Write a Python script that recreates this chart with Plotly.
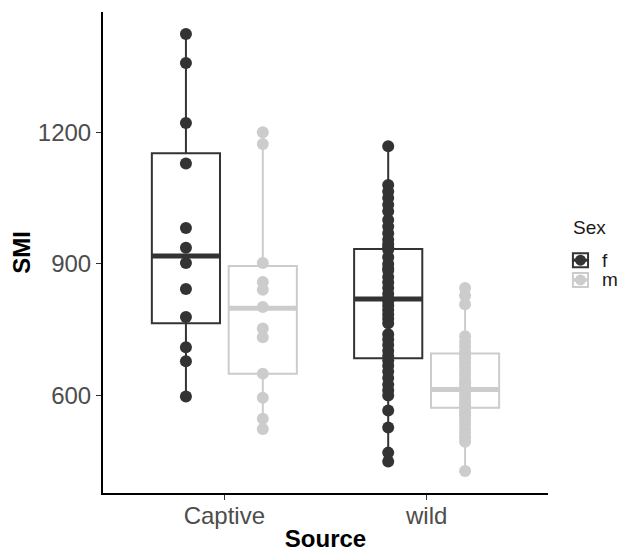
import numpy as np
import plotly.graph_objects as go

# ---- data ----
categories = ["Captive", "wild"]
sexes = ["f", "m"]

captive_f = [1424, 1358, 1221, 1129, 982, 937, 902, 843, 779, 710, 678, 598]
captive_m = [1200, 1173, 902, 859, 841, 802, 753, 733, 650, 595, 547, 524]
wild_f = [1168, 1080, 1065, 1050, 1035, 1020, 1000, 985, 970, 955, 945, 938, 932,
          915, 900, 890, 885, 870, 858, 845, 832, 822, 815, 805, 795, 785, 775,
          765, 740, 728, 715, 702, 690, 680, 668, 655, 640, 625, 612, 600,
          566, 527, 470, 450]
wild_m = [845, 828, 808, 735, 722, 712, 700, 692, 685, 675, 665, 655, 645, 635,
          628, 620, 614, 608, 600, 592, 585, 578, 570, 562, 555, 545, 535, 525,
          515, 505, 495, 428]

# box statistics as drawn (per category: Captive, wild)
q1_f = [765, 685]
med_f = [918, 820]
q3_f = [1152, 934]
q1_m = [650, 572]
med_m = [799, 614]
q3_m = [895, 696]

y_ticks = [600, 900, 1200]

# ---- styling ----
colors = {"f": "#333333", "m": "#cccccc"}
dodge = 0.19
box_w = 0.337
FONT = "Liberation Sans, Arial, sans-serif"

points = {"f": [captive_f, wild_f], "m": [captive_m, wild_m]}
stats = {"f": (q1_f, med_f, q3_f), "m": (q1_m, med_m, q3_m)}

fig = go.Figure()

for s_idx, sex in enumerate(sexes):
    off = -dodge if sex == "f" else dodge
    xs = [i + off for i in range(len(categories))]
    q1, med, q3 = stats[sex]
    lo = [min(p) for p in points[sex]]
    hi = [max(p) for p in points[sex]]
    fig.add_trace(go.Box(
        x=xs, q1=q1, median=med, q3=q3, lowerfence=lo, upperfence=hi,
        width=box_w, whiskerwidth=0,
        line=dict(color=colors[sex], width=2), fillcolor="white",
        name=sex, showlegend=False, hoverinfo="skip",
    ))
    # thick median lines
    for i in range(len(categories)):
        fig.add_trace(go.Scatter(
            x=[xs[i] - box_w / 2, xs[i] + box_w / 2], y=[med[i], med[i]],
            mode="lines", line=dict(color=colors[sex], width=5),
            showlegend=False, hoverinfo="skip",
        ))

for sex in sexes:
    off = -dodge if sex == "f" else dodge
    for i in range(len(categories)):
        vals = points[sex][i]
        fig.add_trace(go.Scatter(
            x=[i + off] * len(vals), y=vals, mode="markers",
            marker=dict(color=colors[sex], size=12, line=dict(width=0)),
            showlegend=False, hoverinfo="skip",
        ))

# ---- custom legend (ggplot-style keys) ----
# plot area is 445 x 481 px; legend positions in paper units
PW, PH = 445.0, 481.0
key_x0, key_x1 = 1.056, 1.090
key_rows = {"f": 0.484, "m": 0.443}
shapes = []
annotations = [dict(text="Sex", xref="paper", yref="paper", x=1.052, y=0.553,
                    xanchor="left", yanchor="middle", showarrow=False,
                    font=dict(size=19, color="#1a1a1a"))]
for sex in sexes:
    yc = key_rows[sex]
    hh = 7.0 / PH
    shapes.append(dict(type="rect", xref="paper", yref="paper",
                       x0=key_x0, x1=key_x1, y0=yc - hh, y1=yc + hh,
                       line=dict(color=colors[sex], width=2), fillcolor="white"))
    shapes.append(dict(type="line", xref="paper", yref="paper",
                       x0=key_x0, x1=key_x1, y0=yc, y1=yc,
                       line=dict(color=colors[sex], width=3)))
    xc = (key_x0 + key_x1) / 2
    rx, ry = 5.5 / PW, 5.5 / PH
    shapes.append(dict(type="circle", xref="paper", yref="paper",
                       x0=xc - rx, x1=xc + rx, y0=yc - ry, y1=yc + ry,
                       line=dict(width=0), fillcolor=colors[sex]))
    annotations.append(dict(text=sex, xref="paper", yref="paper", x=1.117, y=yc,
                            xanchor="left", yanchor="middle", showarrow=False,
                            font=dict(size=19, color="#1a1a1a")))

# body of the page has an 8px margin: figure sized so the plot area lands
# where the reference has it inside the 627x552 window
fig.update_layout(
    width=619, height=544,
    margin=dict(l=95, r=79, t=4, b=59, autoexpand=False),
    plot_bgcolor="white", paper_bgcolor="white",
    font=dict(family=FONT, size=24, color="#4d4d4d"),
    showlegend=False,
    shapes=shapes, annotations=annotations,
    xaxis=dict(
        range=[-0.6, 1.6], tickmode="array",
        tickvals=list(range(len(categories))), ticktext=categories,
        showline=True, linecolor="black", linewidth=2,
        ticks="outside", ticklen=5, tickcolor="#333333", tickwidth=1,
        ticklabelstandoff=-5,
        showgrid=False, zeroline=False, automargin=False,
        tickfont=dict(size=24, color="#4d4d4d"),
        title=dict(text="<b>Source</b>", font=dict(size=24, color="black"), standoff=6),
    ),
    yaxis=dict(
        range=[378, 1474], tickmode="array", tickvals=y_ticks,
        showline=True, linecolor="black", linewidth=2,
        ticks="outside", ticklen=5, tickcolor="#333333", tickwidth=1,
        showgrid=False, zeroline=False, automargin=False,
        tickfont=dict(size=24, color="#4d4d4d"),
        title=dict(text="<b>SMI</b>", font=dict(size=24, color="black"), standoff=4),
    ),
)

fig.write_html("out.html")
